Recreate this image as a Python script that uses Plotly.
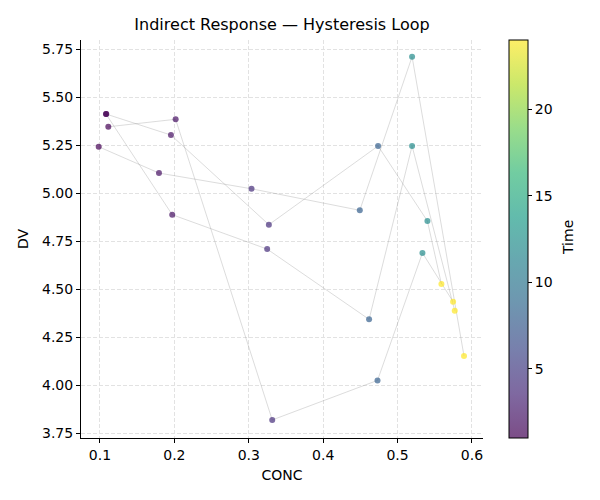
import plotly.graph_objects as go
import plotly.colors as pc

# ---- data ----
subject = [1]*6 + [2]*6 + [3]*6 + [4]*6
time = [1, 2, 4, 8, 12, 24] * 4
conc = [0.1085, 0.1954, 0.3270, 0.4738, 0.5401, 0.5589,
        0.1080, 0.1971, 0.3247, 0.4617, 0.5195, 0.5768,
        0.1112, 0.2017, 0.3315, 0.4730, 0.5334, 0.5746,
        0.0983, 0.1793, 0.3037, 0.4492, 0.5195, 0.5893]
dv = [5.411, 5.302, 4.835, 5.245, 4.854, 4.526,
      5.412, 4.887, 4.708, 4.342, 5.245, 4.387,
      5.345, 5.384, 3.818, 4.024, 4.688, 4.434,
      5.241, 5.104, 5.022, 4.910, 5.710, 4.151]
x_ticks = [0.1, 0.2, 0.3, 0.4, 0.5, 0.6]
y_ticks = [3.75, 4.00, 4.25, 4.50, 4.75, 5.00, 5.25, 5.50, 5.75]
cbar_ticks = [5, 10, 15, 20]

FONT = "DejaVu Sans"

# viridis with alpha 0.7
vir = pc.sequential.Viridis
n = len(vir)
cscale = []
for i, h in enumerate(vir):
    r, g, b = pc.hex_to_rgb(h)
    cscale.append([i / (n - 1), f"rgba({r},{g},{b},0.7)"])

fig = go.Figure()

for s in sorted(set(subject)):
    idx = [i for i, v in enumerate(subject) if v == s]
    idx.sort(key=lambda i: time[i])
    fig.add_trace(go.Scatter(
        x=[conc[i] for i in idx], y=[dv[i] for i in idx],
        mode="lines", line=dict(color="rgba(128,128,128,0.35)", width=0.8),
        showlegend=False, hoverinfo="skip"))

fig.add_trace(go.Scatter(
    x=conc, y=dv, mode="markers", showlegend=False,
    marker=dict(size=6, color=time, colorscale=cscale, cmin=1, cmax=24,
                line=dict(width=0),
                colorbar=dict(
                    thickness=19, len=1, lenmode="fraction", y=0.5, yanchor="middle",
                    x=1.0647, xanchor="left", xpad=0, ypad=0,
                    outlinecolor="black", outlinewidth=1,
                    tickvals=cbar_ticks, ticks="outside", ticklen=4,
                    tickcolor="black", tickwidth=1,
                    tickfont=dict(family=FONT, size=14, color="black")))))

axis_common = dict(showline=True, linecolor="black", linewidth=1, mirror=False,
                   ticks="outside", ticklen=4, tickcolor="black", tickwidth=1,
                   showgrid=True, gridcolor="#e2e2e2", gridwidth=0.8, griddash="4px,2px",
                   zeroline=False,
                   tickfont=dict(family=FONT, size=14, color="black"))

fig.update_xaxes(range=[0.0745, 0.6148], tickvals=x_ticks,
                 ticktext=[f"{v:.1f}" for v in x_ticks],
                 title=dict(text="CONC", font=dict(family=FONT, size=14, color="black"),
                            standoff=8),
                 **axis_common)
fig.update_yaxes(range=[3.724, 5.797], tickvals=y_ticks,
                 ticktext=[f"{v:.2f}" for v in y_ticks],
                 title=dict(text="DV", font=dict(family=FONT, size=14, color="black"),
                            standoff=10),
                 **axis_common)

fig.add_annotation(text="Time", xref="paper", yref="paper",
                   x=(568 - 81) / 402, y=(438 - 238) / 398,
                   xanchor="center", yanchor="middle", showarrow=False,
                   textangle=-90, font=dict(family=FONT, size=14, color="black"))

fig.update_layout(
    width=600, height=500,
    margin=dict(l=81, r=117, t=40, b=62),
    paper_bgcolor="white", plot_bgcolor="white",
    title=dict(text="Indirect Response — Hysteresis Loop",
               font=dict(family=FONT, size=16, color="black"),
               x=(81 + 483) / 2 / 600, xanchor="center", y=1 - 24 / 500, yanchor="middle"),
)

fig.write_html("out.html")
